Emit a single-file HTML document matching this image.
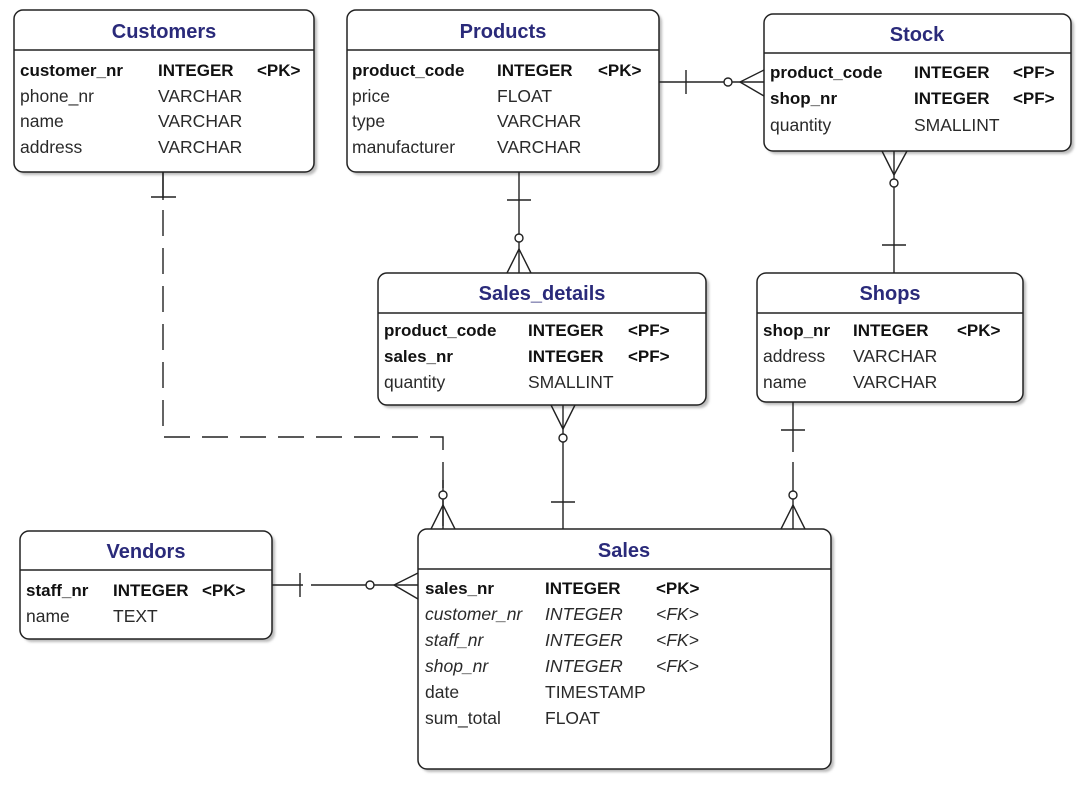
<!DOCTYPE html>
<html><head><meta charset="utf-8"><style>
html,body{margin:0;padding:0;background:#fff}
svg{display:block}
text{font-family:"Liberation Sans",sans-serif;font-size:17.5px;fill:#2a2a2a}
.t{font-weight:bold;fill:#2a2a7a;font-size:20px;text-anchor:middle}
.b{font-weight:bold;fill:#111;font-size:17px}
.i{font-style:italic}
.box{fill:#fff;stroke:#222;stroke-width:1.5}
.sh{fill:#bbb}
.l{stroke:#222;stroke-width:1.4;fill:none}
</style></head><body>
<svg width="1092" height="792" viewBox="0 0 1092 792">
<defs>
<filter id="bl"><feGaussianBlur stdDeviation="1.2"/></filter>
</defs>
<g class="sh" filter="url(#bl)">
<rect x="17" y="13" width="300" height="162" rx="9"/>
<rect x="350" y="13" width="312" height="162" rx="9"/>
<rect x="767" y="17" width="307" height="137" rx="9"/>
<rect x="381" y="276" width="328" height="132" rx="9"/>
<rect x="760" y="276" width="266" height="129" rx="9"/>
<rect x="23" y="534" width="252" height="108" rx="9"/>
<rect x="421" y="532" width="413" height="240" rx="9"/>
</g>
<rect class="box" x="14" y="10" width="300" height="162" rx="9"/>
<line class="l" x1="14" y1="50" x2="314" y2="50"/>
<rect class="box" x="347" y="10" width="312" height="162" rx="9"/>
<line class="l" x1="347" y1="50" x2="659" y2="50"/>
<rect class="box" x="764" y="14" width="307" height="137" rx="9"/>
<line class="l" x1="764" y1="53" x2="1071" y2="53"/>
<rect class="box" x="378" y="273" width="328" height="132" rx="9"/>
<line class="l" x1="378" y1="313" x2="706" y2="313"/>
<rect class="box" x="757" y="273" width="266" height="129" rx="9"/>
<line class="l" x1="757" y1="313" x2="1023" y2="313"/>
<rect class="box" x="20" y="531" width="252" height="108" rx="9"/>
<line class="l" x1="20" y1="570" x2="272" y2="570"/>
<rect class="box" x="418" y="529" width="413" height="240" rx="9"/>
<line class="l" x1="418" y1="569" x2="831" y2="569"/>

<text class="t" x="164" y="38">Customers</text>
<text class="b" x="20" y="76">customer_nr</text><text class="b" x="158" y="76">INTEGER</text><text class="b" x="257" y="76">&lt;PK&gt;</text>
<text x="20" y="102">phone_nr</text><text x="158" y="102">VARCHAR</text>
<text x="20" y="127">name</text><text x="158" y="127">VARCHAR</text>
<text x="20" y="153">address</text><text x="158" y="153">VARCHAR</text>

<text class="t" x="503" y="38">Products</text>
<text class="b" x="352" y="76">product_code</text><text class="b" x="497" y="76">INTEGER</text><text class="b" x="598" y="76">&lt;PK&gt;</text>
<text x="352" y="102">price</text><text x="497" y="102">FLOAT</text>
<text x="352" y="127">type</text><text x="497" y="127">VARCHAR</text>
<text x="352" y="153">manufacturer</text><text x="497" y="153">VARCHAR</text>

<text class="t" x="917" y="41">Stock</text>
<text class="b" x="770" y="78">product_code</text><text class="b" x="914" y="78">INTEGER</text><text class="b" x="1013" y="78">&lt;PF&gt;</text>
<text class="b" x="770" y="104">shop_nr</text><text class="b" x="914" y="104">INTEGER</text><text class="b" x="1013" y="104">&lt;PF&gt;</text>
<text x="770" y="131">quantity</text><text x="914" y="131">SMALLINT</text>

<text class="t" x="542" y="300">Sales_details</text>
<text class="b" x="384" y="336">product_code</text><text class="b" x="528" y="336">INTEGER</text><text class="b" x="628" y="336">&lt;PF&gt;</text>
<text class="b" x="384" y="362">sales_nr</text><text class="b" x="528" y="362">INTEGER</text><text class="b" x="628" y="362">&lt;PF&gt;</text>
<text x="384" y="388">quantity</text><text x="528" y="388">SMALLINT</text>

<text class="t" x="890" y="300">Shops</text>
<text class="b" x="763" y="336">shop_nr</text><text class="b" x="853" y="336">INTEGER</text><text class="b" x="957" y="336">&lt;PK&gt;</text>
<text x="763" y="362">address</text><text x="853" y="362">VARCHAR</text>
<text x="763" y="388">name</text><text x="853" y="388">VARCHAR</text>

<text class="t" x="146" y="558">Vendors</text>
<text class="b" x="26" y="596">staff_nr</text><text class="b" x="113" y="596">INTEGER</text><text class="b" x="202" y="596">&lt;PK&gt;</text>
<text x="26" y="622">name</text><text x="113" y="622">TEXT</text>

<text class="t" x="624" y="557">Sales</text>
<text class="b" x="425" y="594">sales_nr</text><text class="b" x="545" y="594">INTEGER</text><text class="b" x="656" y="594">&lt;PK&gt;</text>
<text class="i" x="425" y="620">customer_nr</text><text class="i" x="545" y="620">INTEGER</text><text class="i" x="656" y="620">&lt;FK&gt;</text>
<text class="i" x="425" y="646">staff_nr</text><text class="i" x="545" y="646">INTEGER</text><text class="i" x="656" y="646">&lt;FK&gt;</text>
<text class="i" x="425" y="672">shop_nr</text><text class="i" x="545" y="672">INTEGER</text><text class="i" x="656" y="672">&lt;FK&gt;</text>
<text x="425" y="698">date</text><text x="545" y="698">TIMESTAMP</text>
<text x="425" y="724">sum_total</text><text x="545" y="724">FLOAT</text>

<path class="l" d="M163 172 V437 H443 V529" stroke-dasharray="26,12"/>
<line class="l" x1="163" y1="172" x2="163" y2="200"/>
<line class="l" x1="151" y1="197" x2="176" y2="197"/>
<line class="l" x1="443" y1="480" x2="443" y2="529"/>
<circle class="l" cx="443" cy="495" r="4" style="fill:#fff"/>
<path class="l" d="M431 529 L443 505 L455 529"/>

<line class="l" x1="519" y1="172" x2="519" y2="273"/>
<line class="l" x1="507" y1="200" x2="531" y2="200"/>
<circle class="l" cx="519" cy="238" r="4" style="fill:#fff"/>
<path class="l" d="M507 273 L519 249 L531 273"/>

<line class="l" x1="659" y1="82" x2="764" y2="82"/>
<line class="l" x1="686" y1="70" x2="686" y2="94"/>
<circle class="l" cx="728" cy="82" r="4" style="fill:#fff"/>
<path class="l" d="M764 70 L740 82 L764 96"/>

<line class="l" x1="894" y1="151" x2="894" y2="273"/>
<path class="l" d="M882 151 L894 175 L907 151"/>
<circle class="l" cx="894" cy="183" r="4" style="fill:#fff"/>
<line class="l" x1="882" y1="245" x2="906" y2="245"/>

<line class="l" x1="563" y1="405" x2="563" y2="529"/>
<path class="l" d="M551 405 L563 429 L575 405"/>
<circle class="l" cx="563" cy="438" r="4" style="fill:#fff"/>
<line class="l" x1="551" y1="502" x2="575" y2="502"/>

<line class="l" x1="793" y1="402" x2="793" y2="452"/>
<line class="l" x1="793" y1="462" x2="793" y2="529"/>
<line class="l" x1="781" y1="430" x2="805" y2="430"/>
<circle class="l" cx="793" cy="495" r="4" style="fill:#fff"/>
<path class="l" d="M781 529 L793 505 L805 529"/>

<line class="l" x1="272" y1="585" x2="303" y2="585"/>
<line class="l" x1="311" y1="585" x2="418" y2="585"/>
<line class="l" x1="300" y1="573" x2="300" y2="597"/>
<circle class="l" cx="370" cy="585" r="4" style="fill:#fff"/>
<path class="l" d="M418 573 L394 585 L418 599"/>
</svg>
</body></html>
